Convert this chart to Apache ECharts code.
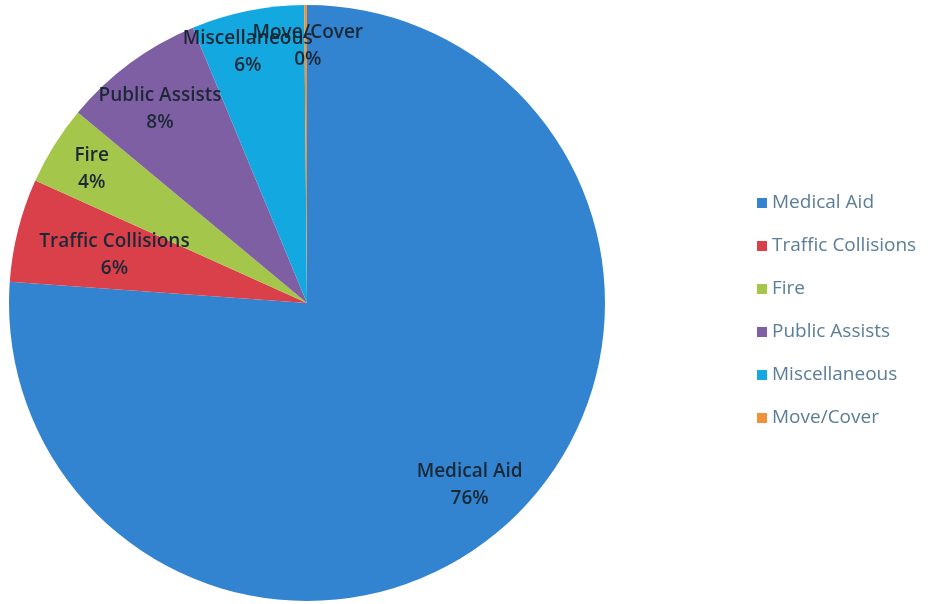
<!DOCTYPE html>
<html><head><meta charset="utf-8">
<script src="https://cdn.jsdelivr.net/npm/echarts@6/dist/echarts.min.js"></script>
<style>html,body{margin:0;padding:0;background:#fff}#c{width:938px;height:604px}</style>
</head><body><div id="c"></div>
<script>
const categories = ['Medical Aid','Traffic Collisions','Fire','Public Assists','Miscellaneous','Move/Cover'];
const values = [76.1, 5.6, 4.3, 7.7, 6.1, 0.15];
const colors = ['#3284d0','#d9404a','#a4c64a','#7e5fa4','#13a9e0','#f0923a'];

const data = categories.map((n,i)=>({name:n, value:values[i], itemStyle:{color:colors[i]}}));
const labelData = categories.map((n,i)=>({name:n, value:values[i]}));
const center = [307, 303];
const radius = 298;
const chart = echarts.init(document.getElementById('c'));
chart.setOption({
  animation:false,
  legend:{
    orient:'vertical', left:752, top:188,
    itemWidth:10, itemHeight:10, itemGap:23, icon:'rect',
    data: categories,
    textStyle:{color:'#5a7d98', fontSize:19, fontFamily:'Open Sans', lineHeight:20}
  },
  series:[
    {type:'pie', center:center, radius:[0, radius], startAngle:90, clockwise:true,
     data:data, label:{show:false}, labelLine:{show:false},
     itemStyle:{borderWidth:0}, emphasis:{disabled:true}},
    {type:'pie', center:center, radius:[radius*0.7, radius], startAngle:90, clockwise:true,
     data:labelData, silent:true, percentPrecision:0,
     itemStyle:{color:'transparent', borderWidth:0},
     labelLine:{show:false}, emphasis:{disabled:true},
     label:{show:true, position:'inside', formatter:'{b}\n{d}%',
       color:'#1c2836', fontSize:19, fontWeight:600, fontFamily:'Open Sans', lineHeight:27},
     labelLayout:function(p){
       if(p.dataIndex===0) return {dx:-12, dy:-6};
       if(p.dataIndex===1) return {dx:56, dy:15};
       if(p.dataIndex===2) return {dx:2, dy:2};
       if(p.dataIndex===3) return {dx:5, dy:12};
       if(p.dataIndex===4) return {dx:-8, dy:0};
       return {dx:2, dy:-1};
     }}
  ]
});
</script></body></html>
